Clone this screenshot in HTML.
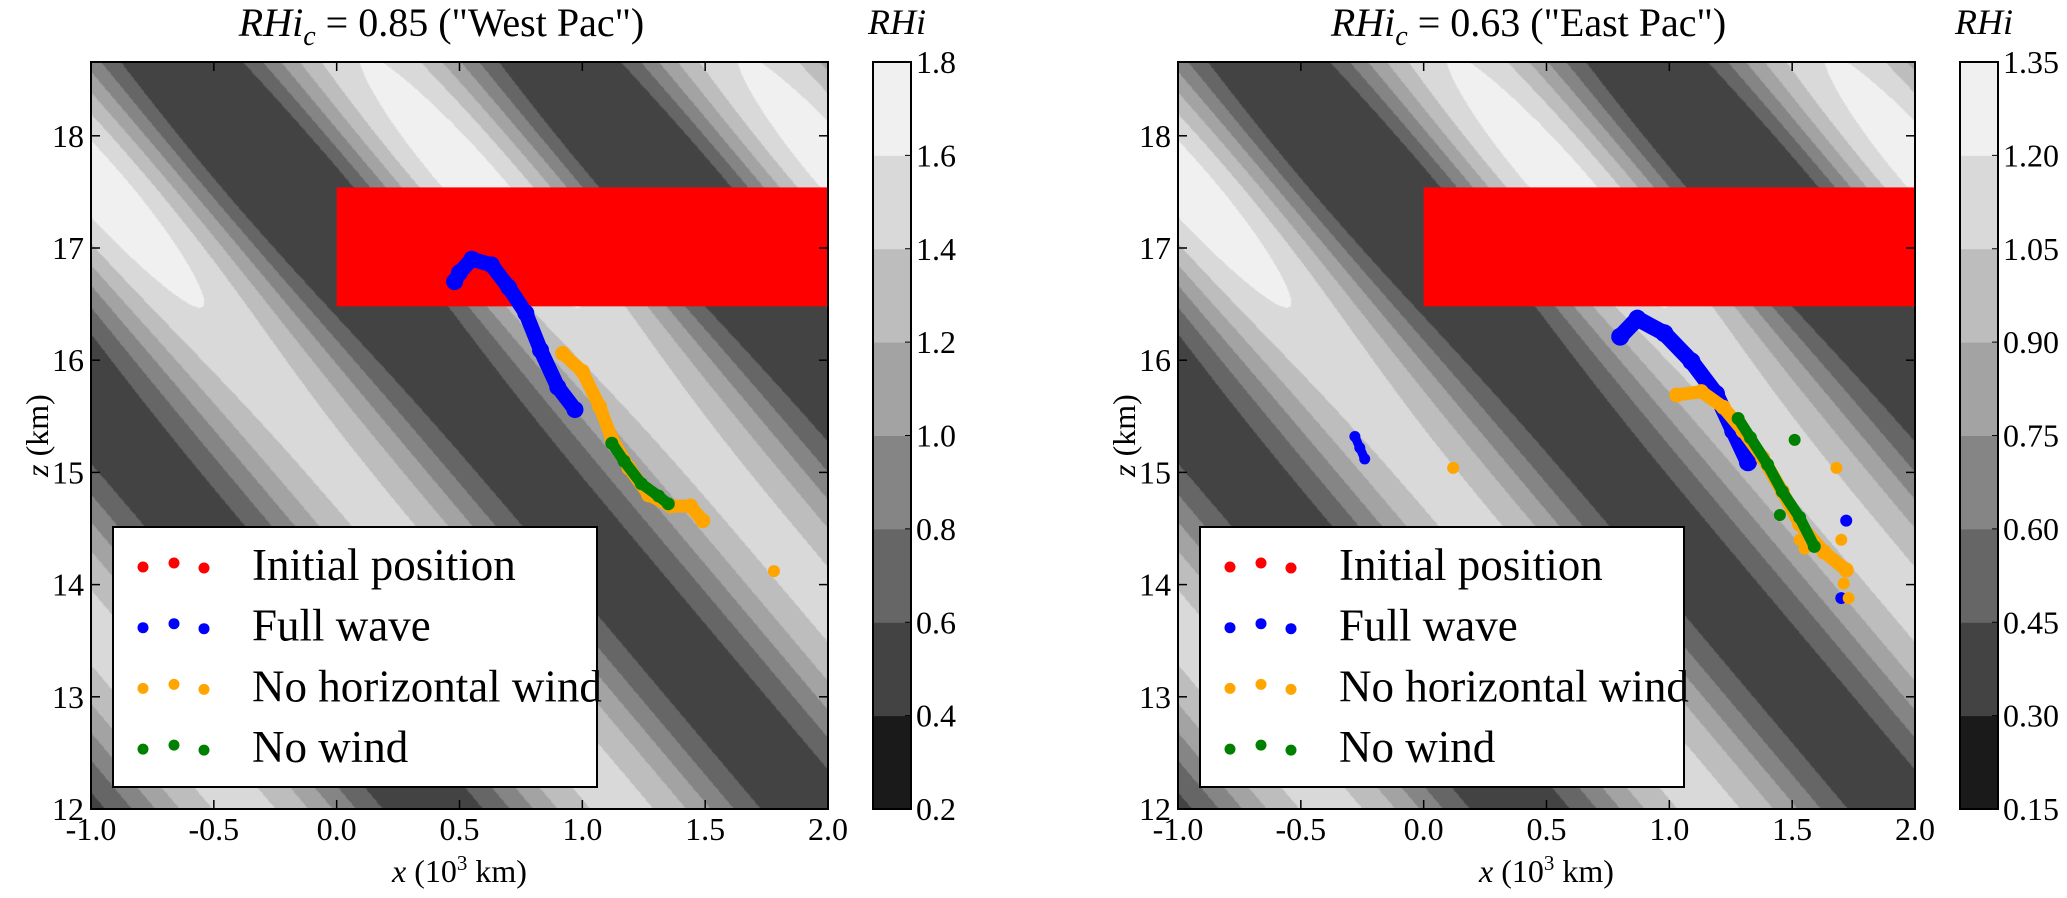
<!DOCTYPE html>
<html><head><meta charset="utf-8">
<style>
html,body{margin:0;padding:0;background:#fff;}
#wrap{position:relative;width:2067px;height:898px;overflow:hidden;font-family:"Liberation Serif","DejaVu Serif","Noto Serif CJK SC",serif;}
canvas{position:absolute;}
svg{position:absolute;left:0;top:0;}
svg text{font-family:"Liberation Serif","DejaVu Serif","Noto Serif CJK SC",serif;}
</style></head>
<body>
<div id="wrap">
<canvas id="fieldL" width="737" height="747" style="left:91px;top:62px"></canvas>
<canvas id="fieldR" width="737" height="747" style="left:1178px;top:62px"></canvas>
<svg id="svg" width="2067" height="898" xmlns="http://www.w3.org/2000/svg"></svg>
</div>
<script>
// ---- data ----
const xTicks = [-1.0, -0.5, 0.0, 0.5, 1.0, 1.5, 2.0];
const zTicks = [12, 13, 14, 15, 16, 17, 18];
const cbTicksL = ["0.2","0.4","0.6","0.8","1.0","1.2","1.4","1.6","1.8"];
const cbTicksR = ["0.15","0.30","0.45","0.60","0.75","0.90","1.05","1.20","1.35"];
const bandColors = ["#1a1a1a","#434343","#666666","#858585","#a3a3a3","#bdbdbd","#d9d9d9","#f0f0f0"];
const initRectX = [0.0, 2.0];
const initRectZ = [16.48, 17.54];
// West Pac series
const blueLx = [0.48,0.50,0.55,0.63,0.70,0.77,0.83,0.90,0.97];
const blueLz = [16.70,16.78,16.90,16.85,16.65,16.42,16.09,15.76,15.56];
const orangeLx = [0.92,1.00,1.07,1.12,1.19,1.27,1.36,1.44,1.49];
const orangeLz = [16.06,15.90,15.59,15.30,15.04,14.80,14.70,14.70,14.57];
const orangeLoneLx = [1.78];
const orangeLoneLz = [14.12];
const greenLx = [1.12,1.17,1.24,1.31,1.35];
const greenLz = [15.26,15.10,14.90,14.79,14.72];
// East Pac series
const blueRx = [0.80,0.87,0.98,1.09,1.19,1.26,1.32];
const blueRz = [16.21,16.37,16.24,15.99,15.70,15.37,15.09];
const blueR2x = [-0.28,-0.26,-0.24];
const blueR2z = [15.32,15.22,15.12];
const blueRLonex = [1.72,1.70];
const blueRLonez = [14.57,13.88];
const orangeRx = [1.03,1.13,1.22,1.30,1.38,1.46,1.53,1.63,1.72];
const orangeRz = [15.69,15.72,15.58,15.37,15.13,14.83,14.54,14.29,14.13];
const orangeRLonex = [0.12,1.68,1.70,1.53,1.55,1.71,1.73];
const orangeRLonez = [15.04,15.04,14.40,14.40,14.32,14.01,13.88];
const greenRx = [1.28,1.33,1.40,1.46,1.53,1.59];
const greenRz = [15.48,15.31,15.07,14.83,14.60,14.34];
const greenRLonex = [1.51,1.45];
const greenRLonez = [15.29,14.62];
const legendLabels = ["Initial position","Full wave","No horizontal wind","No wind"];
const legendColors = ["#ff0000","#0000ff","#ffa500","#008000"];

// ---- geometry ----
const AX_W = 737, AX_T = 62, AX_B = 809;
const Z0 = 12, ZPX = 112.2;
const FONT = '"Liberation Serif", "DejaVu Serif", serif';
function sx(left, x){ return left + (x + 1) * AX_W / 3; }
function sz(z){ return AX_B - (z - Z0) * ZPX; }
const NS = "http://www.w3.org/2000/svg";
const svg = document.getElementById('svg');
function mk(tag, attrs, parent){
  const e = document.createElementNS(NS, tag);
  for (const k in attrs) e.setAttribute(k, attrs[k]);
  if (tag === 'text') e.style.fontFamily = FONT;
  (parent || svg).appendChild(e);
  return e;
}

// ---- field ----
function drawField(id, amp){
  const c = document.getElementById(id), ctx = c.getContext('2d');
  const img = ctx.createImageData(c.width, c.height);
  const rgb = bandColors.map(h => [parseInt(h.substr(1,2),16),parseInt(h.substr(3,2),16),parseInt(h.substr(5,2),16)]);
  for (let j = 0; j < c.height; j++){
    const z = Z0 + (AX_B - (AX_T + j + 0.5)) / ZPX;
    const a = amp * (0.52 + 0.25 * Math.exp(-Math.pow((z - 17.6) / 1.4, 2)));
    for (let i = 0; i < c.width; i++){
      const x = (i + 0.5) * 3 / AX_W - 1;
      const p = z + 2.6 * x;
      let f = 0.95 + a * Math.cos(2 * Math.PI * (p - 19.02) / 4);
      if (f < 0.42) f = 0.42;
      let k = Math.floor((f - 0.2) / 0.2);
      if (k < 0) k = 0; if (k > 7) k = 7;
      const o = (j * c.width + i) * 4;
      img.data[o] = rgb[k][0]; img.data[o+1] = rgb[k][1]; img.data[o+2] = rgb[k][2]; img.data[o+3] = 255;
    }
  }
  ctx.putImageData(img, 0, 0);
}
drawField('fieldL', 1.0);
drawField('fieldR', 1.0);

// ---- panels ----
function series(g, left, xs, zs, color, width, name){
  const pts = xs.map((x,i) => sx(left,x).toFixed(1) + ',' + sz(zs[i]).toFixed(1)).join(' ');
  const pl = mk('polyline', {points: pts, fill: 'none', stroke: color, 'stroke-width': width, 'stroke-linecap': 'round', 'stroke-linejoin': 'round'}, g);
  
  
  xs.forEach((x,i) => {
    const c = mk('circle', {cx: sx(left,x), cy: sz(zs[i]), r: width/2 + 1, fill: color}, g);
    
    
  });
}
function lone(g, left, xs, zs, color, name){
  xs.forEach((x,i) => {
    const c = mk('circle', {cx: sx(left,x), cy: sz(zs[i]), r: 6, fill: color}, g);
    
    
  });
}

function panel(left, cbLeft, titleVal, titleName, cbTicks, data){
  const g = mk('g', {});
  
  
  const r = mk('rect', {x: sx(left, initRectX[0]), y: sz(initRectZ[1]), width: sx(left, initRectX[1]) - sx(left, initRectX[0]), height: sz(initRectZ[0]) - sz(initRectZ[1]), fill: '#ff0000'}, g);
  
  
  data(g, left);
  const fr = mk('rect', {x: left, y: AX_T, width: AX_W, height: AX_B - AX_T, fill: 'none', stroke: '#000', 'stroke-width': 2}, g);
  
  
  xTicks.forEach(t => {
    const X = sx(left, t);
    mk('line', {x1: X, y1: AX_B, x2: X, y2: AX_B - 9, stroke: '#000', 'stroke-width': 1.5}, g);
    mk('line', {x1: X, y1: AX_T, x2: X, y2: AX_T + 9, stroke: '#000', 'stroke-width': 1.5}, g);
    const tx = mk('text', {x: X, y: 840, 'font-size': 32, 'text-anchor': 'middle'}, g);
    tx.textContent = t.toFixed(1);
    
    
  });
  zTicks.forEach(t => {
    const Y = sz(t);
    mk('line', {x1: left, y1: Y, x2: left + 9, y2: Y, stroke: '#000', 'stroke-width': 1.5}, g);
    mk('line', {x1: left + AX_W, y1: Y, x2: left + AX_W - 9, y2: Y, stroke: '#000', 'stroke-width': 1.5}, g);
    const tx = mk('text', {x: left - 7, y: Y + 11, 'font-size': 32, 'text-anchor': 'end'}, g);
    tx.textContent = String(t);
    
    
  });
  const xl = mk('text', {x: left + AX_W/2, y: 882, 'font-size': 32, 'text-anchor': 'middle'}, g);
  xl.innerHTML = '<tspan font-style="italic">x</tspan> (10<tspan dy="-12" font-size="21">3</tspan><tspan dy="12"> km)</tspan>';
  
  
  const yl = mk('text', {x: 0, y: 0, 'font-size': 32, 'text-anchor': 'middle', transform: 'translate(' + (left - 43) + ',' + ((AX_T + AX_B)/2) + ') rotate(-90)'}, g);
  yl.innerHTML = '<tspan font-style="italic">z</tspan> (km)';
  
  
  const tt = mk('text', {x: left + AX_W/2 - 18, y: 36, 'font-size': 40, 'text-anchor': 'middle'}, g);
  tt.innerHTML = '<tspan font-style="italic">RHi</tspan><tspan font-style="italic" font-size="28" dy="9">c</tspan><tspan dy="-9"> = ' + titleVal + '</tspan>';
  
  
  const lg = mk('g', {}, g);
  
  
  const lx = left + 22;
  mk('rect', {x: lx, y: 527, width: 484, height: 260, fill: '#fff', stroke: '#000', 'stroke-width': 2}, lg);
  legendLabels.forEach((lab, i) => {
    const cy = 566 + i * 60.7;
    const e = mk('g', {}, lg);
    
    
    [[30,1],[61,-3],[91,2]].forEach(d => mk('circle', {cx: lx + d[0], cy: cy + d[1], r: 5.5, fill: legendColors[i]}, e));
    const t = mk('text', {x: lx + 139, y: cy + 14, 'font-size': 45}, e);
    t.textContent = lab;
  });
  const cb = mk('g', {}, g);
  
  
  const bh = (AX_B - AX_T) / 8;
  bandColors.forEach((c, k) => {
    mk('rect', {x: cbLeft, y: AX_B - (k+1)*bh, width: 38, height: bh + 0.5, fill: c}, cb);
  });
  mk('rect', {x: cbLeft, y: AX_T, width: 38, height: AX_B - AX_T, fill: 'none', stroke: '#000', 'stroke-width': 2}, cb);
  cbTicks.forEach((lab, k) => {
    const Y = AX_B - k * bh;
    mk('line', {x1: cbLeft + 38, y1: Y, x2: cbLeft + 32, y2: Y, stroke: '#000', 'stroke-width': 1}, cb);
    const t = mk('text', {x: cbLeft + 43, y: Y + 11, 'font-size': 32}, cb);
    t.textContent = lab;
    
    
  });
  const ct = mk('text', {x: cbLeft + 24, y: 34, 'font-size': 36, 'font-style': 'italic', 'text-anchor': 'middle'}, cb);
  ct.textContent = 'RHi';
  
  
}

panel(91, 873, '0.85 ("West Pac")', 'west-pac', cbTicksL, (g, left) => {
  series(g, left, blueLx, blueLz, '#0000ff', 15, 'full-wave');
  series(g, left, orangeLx, orangeLz, '#ffa500', 13, 'no-horizontal-wind');
  lone(g, left, orangeLoneLx, orangeLoneLz, '#ffa500', 'no-horizontal-wind-particle');
  series(g, left, greenLx, greenLz, '#008000', 11, 'no-wind');
});
panel(1178, 1960, '0.63 ("East Pac")', 'east-pac', cbTicksR, (g, left) => {
  series(g, left, blueRx, blueRz, '#0000ff', 16, 'full-wave');
  series(g, left, blueR2x, blueR2z, '#0000ff', 9, 'full-wave');
  lone(g, left, blueRLonex, blueRLonez, '#0000ff', 'full-wave-particle');
  series(g, left, orangeRx, orangeRz, '#ffa500', 13, 'no-horizontal-wind');
  lone(g, left, orangeRLonex, orangeRLonez, '#ffa500', 'no-horizontal-wind-particle');
  series(g, left, greenRx, greenRz, '#008000', 11, 'no-wind');
  lone(g, left, greenRLonex, greenRLonez, '#008000', 'no-wind-particle');
});
</script>
</body></html>
